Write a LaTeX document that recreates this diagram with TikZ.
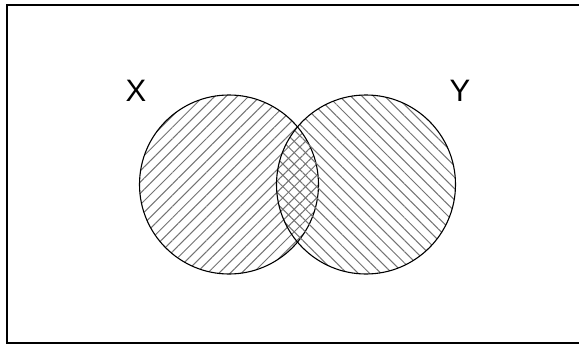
\documentclass[tikz,border=0pt]{standalone}
\usepackage{fontspec}
\setmainfont{Liberation Sans}
\usetikzlibrary{patterns.meta}
\begin{document}
\begin{tikzpicture}[
		x=1pt, y=-1pt,
		setcircle/.style={circle, draw, line width=1.1pt, minimum size=179pt, inner sep=0pt},
		setlabel/.style={draw=none, inner sep=0pt, font=\fontsize{31}{36}\selectfont},
	]
	\useasboundingbox (0,0) rectangle (579,345);
	\draw[line width=1.4pt] (7,5) rectangle (579.5,343);

	\node[setcircle, pattern={Lines[angle=45, distance=8pt, line width=1pt]}, pattern color=black!55] (setX) at (229,184.5) {};
	\node[setcircle, pattern={Lines[angle=-45, distance=8pt, line width=1pt]}, pattern color=black!55] (setY) at (366,184.5) {};

	\node[setlabel] (lblX) at (136,91) {X};
	\node[setlabel] (lblY) at (460,91) {Y};
\end{tikzpicture}
\end{document}
